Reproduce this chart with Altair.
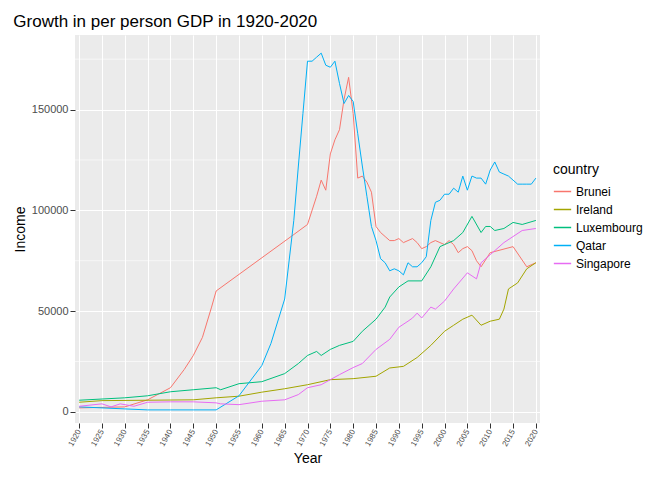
import altair as alt
import pandas as pd

countries = ["Brunei", "Ireland", "Luxembourg", "Qatar", "Singapore"]
colors = ["#F8766D", "#A3A500", "#00BF7D", "#00B0F6", "#E76BF3"]

brunei_years = [1920, 1930, 1935, 1940, 1943, 1945, 1947, 1949, 1950, 1967, 1970, 1972, 1973, 1974,
                1975, 1976, 1977, 1978, 1979, 1980, 1981, 1982, 1983, 1984, 1985, 1986, 1987, 1988,
                1989, 1990, 1991, 1992, 1993, 1994, 1995, 1996, 1997, 1998, 1999, 2000, 2001, 2002,
                2003, 2004, 2005, 2006, 2007, 2008, 2010, 2015, 2018, 2020]
brunei_gdp = [2000, 2500, 6000, 12000, 21000, 28000, 37000, 52000, 60000, 88000, 93000, 107000, 115000, 110000,
              128000, 135000, 140000, 155000, 166000, 148000, 116000, 117000, 114000, 109000, 92000, 89000, 87000, 85000,
              85000, 86000, 84000, 85000, 86000, 84000, 81000, 82000, 84000, 85000, 84000, 83000, 85000, 83000,
              79000, 81000, 82000, 80000, 75000, 72000, 79000, 82000, 72000, 74000]

ireland_years = [1920, 1925, 1945, 1950, 1955, 1960, 1965, 1970, 1975, 1980, 1985, 1988, 1991, 1994,
                 1997, 2000, 2002, 2004, 2006, 2008, 2010, 2012, 2013, 2014, 2016, 2018, 2020]
ireland_gdp = [4800, 5600, 6000, 7000, 7800, 9800, 11500, 13500, 16000, 16500, 17700, 21800, 22600, 27000,
               33000, 40000, 43000, 46000, 48000, 43000, 45000, 46000, 51000, 61000, 64000, 71000, 74000]

lux_years = [1920, 1930, 1935, 1940, 1945, 1950, 1951, 1955, 1960, 1965, 1968, 1970, 1972, 1973, 1975,
             1977, 1980, 1982, 1985, 1987, 1988, 1990, 1992, 1995, 1997, 1999, 2000, 2002, 2004, 2006,
             2008, 2009, 2010, 2011, 2013, 2015, 2017, 2020]
lux_gdp = [5800, 7000, 8000, 10000, 11000, 12000, 11000, 14000, 15000, 19000, 24000, 28000, 30000, 28000, 31000,
           33000, 35000, 40000, 46000, 52000, 57000, 62000, 65000, 65000, 72000, 82000, 83000, 85000, 89000, 97000,
           89000, 92000, 92000, 90000, 91000, 94000, 93000, 95000]

qatar_years = list(range(1920, 1951, 5)) + [1955, 1960, 1962, 1965, 1967, 1968, 1969] + list(range(1970, 2021))
qatar_gdp = [2500, 2000, 1500, 1000, 1000, 1000, 1000,
             8000, 23000, 34000, 56000, 95000, 122000, 148000,
             174000, 174000, 176000, 178000, 172000, 171000, 174000, 163000, 153000, 157000,
             154000, 138000, 122000, 107000, 92000, 85000, 76000, 74000, 70000, 71000,
             70000, 68000, 74000, 72000, 72000, 74000, 77000, 95000, 104000, 105000,
             108000, 108000, 111000, 109000, 117000, 110000, 117000, 116000, 116000, 113000,
             120000, 124000, 119000, 118000, 117000, 115000, 113000, 113000, 113000, 113000, 116000]

sing_years = [1920, 1925, 1927, 1929, 1932, 1935, 1940, 1945, 1950, 1951, 1955, 1960, 1965, 1968, 1970,
              1973, 1975, 1977, 1980, 1982, 1985, 1988, 1990, 1992, 1993, 1994, 1995, 1997, 1998, 2000,
              2002, 2005, 2007, 2008, 2010, 2013, 2015, 2017, 2020]
sing_gdp = [2800, 4000, 2500, 4000, 2800, 4800, 5000, 5000, 4500, 4000, 3600, 5300, 6000, 8600, 12000,
            13500, 16000, 18500, 22000, 24000, 31000, 36000, 42000, 45000, 46600, 49000, 46600, 52000, 51000, 55000,
            61000, 69000, 66000, 74000, 78000, 84000, 87000, 90000, 91000]

rows = []
for name, yrs, vals in [("Brunei", brunei_years, brunei_gdp), ("Ireland", ireland_years, ireland_gdp),
                        ("Luxembourg", lux_years, lux_gdp), ("Qatar", qatar_years, qatar_gdp),
                        ("Singapore", sing_years, sing_gdp)]:
    for y, v in zip(yrs, vals):
        rows.append({"country": name, "Year": y, "Income": v})
df = pd.DataFrame(rows)

x_ticks = list(range(1920, 2021, 5))
minor_y = pd.DataFrame({"v": [25000, 75000, 125000, 175000]})
y_scale = alt.Scale(domain=[-5500, 187000], nice=False, zero=False)

minor = alt.Chart(minor_y).mark_rule(color="white", strokeWidth=0.6).encode(
    y=alt.Y("v:Q", scale=y_scale, title="Income")
)

lines = alt.Chart(df).mark_line(strokeWidth=1).encode(
    x=alt.X("Year:Q", scale=alt.Scale(domain=[1919.1, 2020.9], nice=False, zero=False),
            axis=alt.Axis(values=x_ticks, format="d", labelAngle=-60, labelFontSize=8,
                          labelColor="#4D4D4D", tickColor="#333333", gridColor="white",
                          labelAlign="right", labelBaseline="middle", titleFontSize=14,
                          titleFontWeight="normal", titleColor="black", domain=False)),
    y=alt.Y("Income:Q", scale=y_scale, title="Income",
            axis=alt.Axis(values=[0, 50000, 100000, 150000], format="d", labelColor="#4D4D4D",
                          labelFontSize=11, tickColor="#333333", gridColor="white", gridWidth=1.2,
                          titleFontSize=14, titleFontWeight="normal", titleColor="black", domain=False)),
    color=alt.Color("country:N", scale=alt.Scale(domain=countries, range=colors),
                    legend=alt.Legend(title="country", symbolType="stroke", titleFontSize=14,
                                      titleFontWeight="normal", labelFontSize=12, symbolSize=300,
                                      orient="none", legendX=478, legendY=128)),
    detail="country:N",
)

chart = alt.layer(minor, lines).properties(
    width=465, height=388,
    view=alt.ViewBackground(fill="#EBEBEB", stroke=None),
    title=alt.TitleParams("Growth in per person GDP in 1920-2020", anchor="start", fontSize=17,
                          fontWeight="normal", font="Liberation Sans"),
).configure(font="Liberation Sans", padding={"left": 5, "top": 5, "right": 5, "bottom": 5})

chart.save("out.html", embed_options={"renderer": "svg", "actions": False})
